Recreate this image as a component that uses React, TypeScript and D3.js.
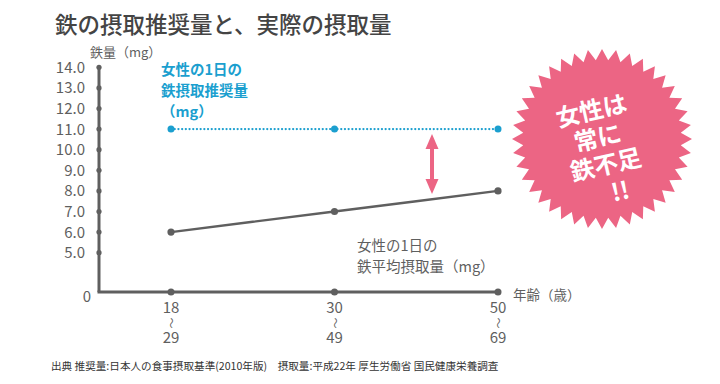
import React from "react";
import * as d3 from "d3";

// data
const ageGroups = ["18-29", "30-49", "50-69"];
const ageLabels = [["18", "〜", "29"], ["30", "〜", "49"], ["50", "〜", "69"]];
const recommended = [11.0, 11.0, 11.0];
const actualIntake = [6.0, 7.0, 8.0];
const yTicks = [5, 6, 7, 8, 9, 10, 11, 12, 13, 14];

const W = 720;
const H = 384;
const FONT = "'Noto Sans CJK JP', 'Noto Sans', sans-serif";
const GRAY = "#5f5f5f";
const BLUE = "#1b9fcf";
const PINK = "#ec6584";

// starburst polygon around its own center
function starPoints(n: number, rOut: number, rIn: number) {
  const pts: [number, number][] = [];
  for (let i = 0; i < n * 2; i++) {
    const r = i % 2 === 0 ? rOut : rIn;
    const a = (Math.PI * i) / n - Math.PI / 2;
    pts.push([r * Math.cos(a), r * Math.sin(a)]);
  }
  return pts.map(p => p.join(",")).join(" ");
}

export default function App() {
  // broken axis: 0 sits just below 5
  const y = d3.scaleLinear().domain([0, 5, 14]).range([292, 252.7, 67.3]);
  const x = d3.scalePoint<string>().domain(ageGroups).range([171, 498]);
  const x0 = 99;

  const line = d3
    .line<number>()
    .x((_, i) => x(ageGroups[i])!)
    .y(d => y(d))
    .curve(d3.curveMonotoneX);

  const burstCx = 602;
  const burstCy = 139;
  const arrowX = 432;
  const arrowTop = y(11) + 5;
  const arrowBot = y(8) + 3;

  return (
    <div style={{ position: "fixed", left: 0, top: 0 }}>
      <svg width={W} height={H} style={{ display: "block", background: "#fff", fontFamily: FONT }}>
        {/* title */}
        <text x={55} y={33} fontSize={22.5} fill="#444" fontWeight={500}>
          鉄の摂取推奨量と、実際の摂取量
        </text>
        <text x={90} y={57} fontSize={13} fill={GRAY}>
          鉄量（mg）
        </text>

        {/* axes */}
        <line x1={x0} x2={x0} y1={y(14)} y2={y(0)} stroke={GRAY} strokeWidth={3} />
        <line x1={x0 - 1.5} x2={x(ageGroups[2])!} y1={y(0)} y2={y(0)} stroke={GRAY} strokeWidth={3} />
        {yTicks.map(t => (
          <g key={t}>
            <circle cx={x0} cy={y(t)} r={2.6} fill={GRAY} />
            <text x={85} y={y(t)} dy="0.36em" textAnchor="end" fontSize={15} fill={GRAY}>
              {t.toFixed(1)}
            </text>
          </g>
        ))}
        <text x={91} y={y(0) + 5} dy="0.36em" textAnchor="end" fontSize={15} fill={GRAY}>
          0
        </text>
        {ageGroups.map((g, i) => (
          <g key={g}>
            <circle cx={x(g)!} cy={y(0)} r={3.5} fill={GRAY} />
            {ageLabels[i].map((s, j) => (
              <text
                key={j}
                x={x(g)!}
                y={y(0) + 16 + j * 15}
                dy="0.36em"
                textAnchor="middle"
                fontSize={s === "〜" ? 11 : 15}
                fill={GRAY}
                transform={s === "〜" ? `rotate(90 ${x(g)!} ${y(0) + 16 + j * 15})` : undefined}
              >
                {s}
              </text>
            ))}
          </g>
        ))}
        <text x={513} y={y(0) + 3} dy="0.36em" fontSize={13.5} fill={GRAY}>
          年齢（歳）
        </text>

        {/* recommended line */}
        <path
          d={line(recommended) || ""}
          fill="none"
          stroke={BLUE}
          strokeWidth={2.2}
          strokeDasharray="0.1 3.6"
          strokeLinecap="round"
        />
        {recommended.map((v, i) => (
          <circle key={i} cx={x(ageGroups[i])!} cy={y(v)} r={3.5} fill={BLUE} />
        ))}
        <text fontSize={14.5} fill={BLUE} fontWeight={700}>
          <tspan x={161} y={75}>女性の1日の</tspan>
          <tspan x={161} y={96}>鉄摂取推奨量</tspan>
          <tspan x={161} y={117}>（mg）</tspan>
        </text>

        {/* actual line */}
        <path d={line(actualIntake) || ""} fill="none" stroke={GRAY} strokeWidth={2.4} />
        {actualIntake.map((v, i) => (
          <circle key={i} cx={x(ageGroups[i])!} cy={y(v)} r={3.6} fill={GRAY} />
        ))}
        <text fontSize={14.5} fill={GRAY}>
          <tspan x={357} y={251}>女性の1日の</tspan>
          <tspan x={357} y={272}>鉄平均摂取量（mg）</tspan>
        </text>

        {/* gap arrow */}
        <line x1={arrowX} x2={arrowX} y1={arrowTop + 10} y2={arrowBot - 10} stroke={PINK} strokeWidth={4} />
        <polygon
          points={`${arrowX},${arrowTop} ${arrowX - 6.5},${arrowTop + 15} ${arrowX + 6.5},${arrowTop + 15}`}
          fill={PINK}
        />
        <polygon
          points={`${arrowX},${arrowBot} ${arrowX - 6.5},${arrowBot - 15} ${arrowX + 6.5},${arrowBot - 15}`}
          fill={PINK}
        />

        {/* starburst */}
        <g transform={`translate(${burstCx},${burstCy})`}>
          <polygon points={starPoints(40, 90, 79)} fill={PINK} />
          <text transform="rotate(-13)" fill="#fff" fontSize={24} fontWeight={700} textAnchor="middle">
            <tspan x={-4} y={-30} dy="0.36em">女性は</tspan>
            <tspan x={-4} y={-2} dy="0.36em">常に</tspan>
            <tspan x={-2} y={26} dy="0.36em">鉄不足</tspan>
            <tspan x={6} y={55} dy="0.36em">!!</tspan>
          </text>
        </g>

        {/* footer */}
        <text x={51} y={370} fontSize={10.6} fill="#333">
          出典 推奨量:日本人の食事摂取基準(2010年版)　摂取量:平成22年 厚生労働省 国民健康栄養調査
        </text>
      </svg>
    </div>
  );
}
